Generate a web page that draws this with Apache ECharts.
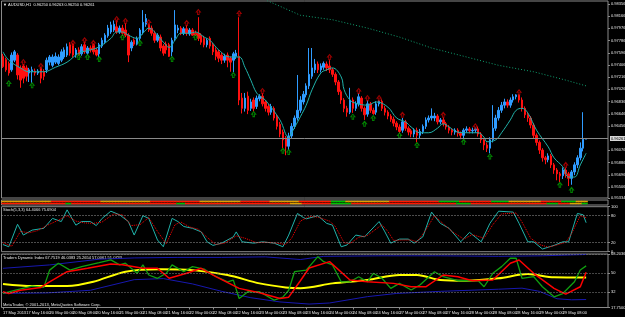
<!DOCTYPE html>
<html><head><meta charset="utf-8">
<script src="https://cdn.jsdelivr.net/npm/echarts@6/dist/echarts.min.js"></script>
<style>html,body{margin:0;padding:0;background:#000;}#c{width:625px;height:317px;}</style>
</head><body><div id="c"></div><script>
// ---- time axis labels (one every 8 H1 bars) ----
const timeLabels = ['17 May 2013','17 May 16:00','20 May 00:00','20 May 08:00','20 May 16:00','21 May 00:00','21 May 08:00','21 May 16:00','22 May 00:00','22 May 08:00','22 May 16:00','23 May 00:00','23 May 08:00','23 May 16:00','24 May 00:00','24 May 08:00','24 May 16:00','27 May 00:00','27 May 08:00','27 May 16:00','28 May 00:00','28 May 08:00','28 May 16:00','29 May 00:00','29 May 08:00','29 May 16:00'];
// ---- AUDUSD H1 candles in pips: [open, close, low, high] ----
const ohlc = [
[9754,9738,9736,9758],[9749,9733,9730,9752],[9743,9728,9724,9746],[9733,9756,9730,9760],[9748,9761,9745,9764],
[9756,9725,9718,9759],[9736,9717,9705,9740],[9739,9720,9712,9742],[9736,9723,9715,9740],[9728,9733,9714,9736],
[9730,9733,9713,9738],[9731,9728,9724,9735],[9728,9731,9725,9734],[9736,9720,9712,9737],[9730,9723,9717,9734],
[9733,9748,9728,9752],[9745,9753,9740,9756],[9740,9753,9737,9757],[9745,9754,9742,9760],[9743,9753,9740,9757],
[9748,9761,9745,9765],[9753,9764,9750,9768],[9756,9769,9753,9774],[9772,9759,9755,9776],[9773,9756,9752,9774],
[9756,9764,9752,9767],[9764,9756,9755,9768],[9758,9769,9755,9773],[9772,9761,9758,9777],[9759,9767,9756,9770],
[9767,9764,9760,9771],[9772,9761,9757,9774],[9764,9756,9754,9767],[9758,9772,9753,9775],[9770,9779,9767,9783],
[9776,9787,9773,9790],[9786,9798,9783,9803],[9792,9803,9789,9808],[9795,9804,9792,9810],[9800,9792,9789,9810],
[9792,9798,9789,9802],[9798,9790,9786,9803],[9795,9787,9784,9806],[9787,9756,9745,9790],[9767,9776,9762,9779],
[9779,9773,9770,9782],[9773,9782,9771,9785],[9782,9795,9778,9798],[9792,9807,9788,9826],[9804,9813,9800,9820],
[9804,9795,9792,9805],[9798,9790,9786,9802],[9790,9779,9775,9794],[9779,9787,9776,9790],[9784,9767,9762,9788],
[9770,9759,9755,9773],[9773,9764,9758,9777],[9772,9754,9753,9775],[9761,9779,9754,9783],[9782,9803,9778,9826],
[9795,9798,9790,9803],[9798,9790,9787,9801],[9790,9797,9787,9800],[9797,9790,9786,9803],[9789,9795,9786,9798],
[9795,9787,9786,9798],[9790,9787,9786,9794],[9790,9782,9778,9815],[9787,9776,9772,9790],[9782,9772,9768,9786],
[9772,9779,9768,9782],[9782,9770,9766,9785],[9772,9761,9756,9775],[9764,9754,9748,9768],[9761,9751,9745,9764],
[9756,9748,9742,9760],[9748,9754,9744,9758],[9756,9748,9737,9760],[9751,9745,9730,9754],[9748,9758,9729,9761],
[9754,9759,9750,9764],[9754,9686,9678,9815],[9689,9673,9665,9697],[9673,9689,9668,9697],[9692,9670,9664,9699],
[9673,9683,9669,9688],[9686,9673,9668,9690],[9676,9689,9672,9693],[9688,9692,9684,9695],[9692,9680,9676,9697],
[9683,9673,9668,9686],[9676,9667,9662,9680],[9667,9676,9663,9680],[9673,9658,9654,9676],[9661,9645,9640,9664],
[9648,9633,9628,9652],[9636,9624,9611,9640],[9627,9614,9600,9630],[9614,9630,9608,9635],[9630,9645,9626,9650],
[9645,9658,9641,9662],[9658,9670,9654,9725],[9670,9686,9666,9692],[9683,9695,9679,9700],[9694,9708,9690,9712],
[9708,9726,9703,9767],[9723,9736,9719,9767],[9733,9742,9728,9750],[9742,9733,9728,9746],[9733,9739,9729,9743],
[9737,9743,9733,9746],[9742,9736,9731,9746],[9739,9733,9728,9748],[9733,9726,9722,9736],[9726,9714,9709,9729],
[9714,9699,9694,9717],[9699,9686,9680,9702],[9686,9673,9667,9689],[9673,9667,9660,9677],[9667,9686,9664,9705],
[9686,9673,9666,9690],[9673,9680,9669,9684],[9680,9691,9676,9697],[9689,9673,9668,9692],[9673,9663,9655,9676],
[9664,9680,9660,9686],[9680,9670,9666,9683],[9670,9665,9663,9674],[9667,9680,9663,9684],[9680,9684,9676,9686],
[9684,9673,9669,9687],[9673,9667,9662,9677],[9667,9661,9656,9670],[9661,9656,9652,9664],[9656,9650,9645,9660],
[9650,9644,9639,9653],[9644,9637,9634,9648],[9639,9652,9635,9658],[9652,9642,9638,9655],[9642,9636,9631,9645],
[9638,9633,9628,9641],[9633,9639,9628,9642],[9639,9631,9620,9643],[9631,9637,9626,9641],[9637,9645,9633,9648],
[9645,9655,9641,9659],[9655,9658,9651,9662],[9658,9661,9654,9673],[9658,9661,9653,9666],[9661,9652,9648,9664],
[9652,9655,9648,9658],[9655,9649,9645,9659],[9649,9644,9640,9652],[9644,9639,9634,9647],[9639,9636,9631,9642],
[9636,9639,9632,9642],[9639,9634,9629,9642],[9634,9631,9625,9637],[9631,9639,9625,9642],[9639,9641,9635,9645],
[9641,9638,9634,9644],[9638,9639,9634,9643],[9639,9641,9635,9643],[9641,9633,9629,9644],[9633,9624,9619,9636],
[9624,9616,9608,9627],[9616,9611,9605,9620],[9611,9624,9603,9628],[9624,9642,9620,9678],[9642,9658,9638,9663],
[9658,9670,9654,9675],[9670,9678,9666,9683],[9678,9683,9673,9688],[9683,9678,9674,9687],[9678,9686,9674,9690],
[9686,9691,9682,9695],[9691,9694,9687,9695],[9694,9686,9682,9695],[9686,9673,9668,9690],[9673,9663,9658,9676],
[9663,9658,9652,9667],[9658,9647,9642,9661],[9647,9631,9626,9650],[9631,9620,9615,9634],[9620,9608,9602,9623],
[9608,9596,9590,9611],[9596,9593,9586,9599],[9593,9599,9589,9603],[9599,9585,9580,9602],[9585,9577,9571,9588],
[9577,9571,9561,9580],[9571,9568,9558,9574],[9568,9577,9563,9581],[9577,9571,9565,9580],[9571,9564,9552,9574],
[9564,9574,9554,9577],[9574,9585,9569,9589],[9585,9596,9580,9600],[9596,9611,9592,9620],[9611,9625,9606,9667],
[9625.0,9626.1,9625.0,9626.3]
];
// fast MA (teal) [bar, pips]
const maFast = [[0,9761],[2,9748],[6,9736],[9,9730],[14,9730],[18,9737],[22,9745],[26,9759],[30,9764],[33,9769],[37,9782],[39,9792],[41,9792],[43,9787],[46,9782],[48,9790],[50,9798],[53,9787],[55,9776],[57,9768],[59,9779],[61,9790],[64,9790],[66,9792],[69,9784],[71,9779],[74,9764],[78,9753],[81,9753],[83,9737],[85,9717],[87,9697],[89,9689],[90,9686],[95,9655],[98,9628],[99,9635],[102,9660],[104,9678],[106,9702],[109,9728],[111,9733],[113,9736],[116,9722],[117,9702],[119,9686],[121,9681],[125,9678],[128,9683],[132,9675],[135,9658],[138,9652],[140,9644],[143,9635],[146,9635],[149,9642],[151,9649],[153,9644],[156,9636],[159,9635],[163,9635],[165,9628],[166,9621],[169,9624],[171,9635],[174,9655],[176,9670],[178,9673],[180,9666],[183,9639],[187,9613],[189,9596],[192,9582],[194,9566],[196,9566],[198,9585],[200,9603]];
// slow MA (green dotted) [bar, pips]
const maSlow = [[81,9858],[90,9842],[102,9818],[113,9811],[125,9798],[136,9784],[147,9767],[159,9753],[170,9740],[182,9730],[193,9717],[200,9708]];
// fractal arrows [bar, pips]
const upFractals = [[7,9745],[13,9739],[24,9775],[28,9779],[31,9775],[39,9812],[42,9809],[50,9807],[63,9806],[67,9823],[81,9821],[89,9700],[112,9753],[122,9700],[125,9689],[129,9689],[137,9663],[151,9663],[162,9645],[177,9698],[193,9585]];
const downFractals = [[2,9712],[10,9709],[26,9753],[29,9753],[33,9750],[41,9784],[47,9775],[58,9750],[66,9784],[79,9725],[86,9664],[96,9607],[98,9605],[120,9660],[124,9649],[127,9658],[136,9631],[142,9616],[158,9621],[167,9598],[191,9554],[195,9546]];
// price axis tick labels
const priceTicks = [0.98356,0.98166,0.97976,0.97786,0.97596,0.97406,0.97216,0.97026,0.96836,0.96646,0.96456,0.96076,0.95886,0.95696,0.95506,0.95334];
const lastPrice = 0.96261;
// strip indicator runs [fromBar, toBar, state] state 0=red 1=orange 2=green
const stripTop = [[0,16,1],[17,33,0],[34,50,1],[51,67,0],[68,81,1],[82,91,0],[92,101,1],[102,112,0],[113,117,2],[118,132,1],[133,149,0],[150,156,2],[157,167,0],[168,173,2],[174,184,1],[185,191,0],[192,196,2],[197,200,1]];
const stripBottom = [[0,21,0],[22,23,2],[24,59,0],[60,62,2],[63,98,0],[99,102,1],[103,112,0],[113,119,2],[120,155,0],[156,160,2],[161,186,0],[187,190,2],[191,194,0],[195,198,1],[199,200,2]];
// Stochastic(5,3,3) [bar, value]
const stochMain = [[0,16],[2,11],[5,61],[7,37],[10,48],[14,52],[17,74],[20,67],[22,93],[24,70],[25,59],[27,67],[30,67],[32,58],[34,74],[37,90],[40,82],[43,67],[45,37],[48,80],[50,74],[53,26],[55,11],[58,74],[60,67],[62,56],[65,52],[68,44],[70,22],[72,14],[75,19],[79,33],[80,44],[82,22],[86,19],[89,22],[93,19],[96,11],[98,37],[101,85],[103,76],[104,73],[108,80],[111,63],[113,59],[116,11],[118,15],[121,37],[124,33],[129,67],[131,44],[133,19],[136,28],[139,28],[141,19],[144,33],[147,88],[150,63],[153,52],[157,22],[160,43],[164,22],[167,63],[170,90],[175,88],[177,63],[180,22],[182,22],[185,6],[189,14],[192,22],[194,22],[197,85],[199,82],[200,64.4]];
const stochSignal = [[0,20],[3,12],[6,45],[9,42],[12,47],[15,58],[19,70],[22,80],[25,68],[28,64],[31,63],[34,66],[38,84],[41,82],[44,58],[47,60],[50,76],[53,45],[56,18],[59,60],[61,66],[64,55],[67,50],[70,32],[73,16],[76,19],[80,35],[83,30],[87,20],[90,21],[94,19],[97,16],[99,30],[102,68],[105,78],[108,77],[112,68],[114,56],[117,20],[119,18],[122,32],[125,36],[130,60],[132,45],[134,25],[137,26],[140,26],[142,22],[145,48],[148,80],[151,62],[154,45],[158,28],[161,38],[165,30],[168,60],[171,84],[176,86],[178,66],[181,30],[184,16],[187,10],[190,15],[193,21],[195,40],[198,80],[200,75.7]];
// Traders Dynamic Index [bar, value]
const tdiUpper = [[0,54.7],[16,57.9],[33,63.3],[45,64.5],[60,65],[75,65],[90,65.5],[102,63],[110,66],[130,66.5],[150,66.5],[170,66],[185,66.5],[200,67.75]];
const tdiLower = [[0,31],[15,31.5],[30,34],[45,44],[55,45],[65,40],[75,33],[85,27],[95,23],[105,21],[112,22],[125,28],[135,31],[150,33],[170,35],[178,36],[184,33],[190,26],[195,25],[200,25.27]];
const tdiBase = [[0,39.9],[10,38],[22,38],[31,42],[42,51.5],[54,53.8],[65,53],[77,48.4],[88,40.5],[97,36.7],[102,36],[113,40.5],[125,43.7],[136,48.4],[142,48.4],[150,43.7],[159,43],[170,45.3],[180,49.3],[189,46.2],[200,46.04]];
const tdiSignal = [[0,32.6],[2,31],[6,34],[13,36.7],[16,42],[22,51.5],[29,54.7],[37,58.8],[41,58],[48,54.7],[53,54.7],[57,45.3],[63,50],[68,54.7],[73,46.8],[81,35.8],[88,31.6],[95,26.3],[98,27.5],[102,43],[105,55],[112,61],[119,43.7],[125,42],[134,40.5],[140,37.3],[145,37.3],[151,48.4],[156,46.8],[161,43],[168,43.7],[174,59.5],[177,62.6],[182,50],[189,35.8],[193,30.4],[198,37.3],[200,51.07]];
const tdiRsi = [[0,31],[4,34],[10,38],[14,36.7],[16,53],[19,59.5],[23,53],[27,56.3],[33,60],[37,62.6],[40,58],[42,59.5],[46,50],[48,58],[50,48.4],[53,45.3],[56,50],[58,58],[62,51.5],[65,56.3],[69,54],[72,48.4],[77,42],[79,43.6],[81,26.3],[84,32.6],[88,32.6],[93,24.7],[96,27.5],[98,34],[100,51.5],[104,53],[108,65.7],[110,61],[113,57.9],[116,42],[119,42],[122,46.8],[125,42],[127,50],[130,45.3],[133,35.8],[136,40.5],[140,34.2],[143,39],[148,51.5],[151,46.8],[156,43],[159,43],[163,43],[165,37.3],[168,50],[171,56.3],[174,64.2],[176,64.2],[178,45.3],[182,46.8],[185,37.3],[189,27.8],[192,30.9],[196,42],[198,53.1],[200,57.0]];
const tdiTicks = [17.75, 32, 50, 68.2036];

// ---------- build ----------
const nCats = 208;
const cats = Array.from({length:nCats}, (_, i) => String(i));
const px = v => v / 10000;
const toPrice = arr => arr.map(([i, v]) => [i, px(v)]);
const candleData = ohlc.map(r => r.map(px));
const stripCells = [];
// rows: 0 pad, 1 bottom line, 2 gap, 3 top line, 4 pad
[[stripBottom, 1], [stripTop, 3]].forEach(([runs, row]) => runs.forEach(([a, b, s]) => { for (let i = a; i <= b; i++) stripCells.push([i, row, s]); }));

const FONT = 'Liberation Sans';
const border = '#8a8a8a';
const L = 1.5, W = 606.5;
const gridBase = {left: L, width: W, show: true, borderColor: border, borderWidth: 1, backgroundColor: '#000', containLabel: false, outerBoundsMode: 'none'};
const xBase = (g) => ({type: 'category', gridIndex: g, data: cats, boundaryGap: true, axisLine: {show: false}, axisTick: {show: false}, axisLabel: {show: false}, splitLine: {show: false}});
const lbl = {color: '#e8e8e8', fontSize: 4, fontFamily: FONT, margin: 3};
const showIdx = (idx) => idx % 8 === 0 && idx <= 200;

const chart = echarts.init(document.getElementById('c'), null, {renderer: 'canvas'});
chart.setOption({
  backgroundColor: '#000',
  animation: false,
  grid: [
    Object.assign({top: 1, height: 197}, gridBase),
    Object.assign({top: 200, height: 5}, gridBase),
    Object.assign({top: 206.7, height: 45}, gridBase),
    Object.assign({top: 254, height: 53.5}, gridBase)
  ],
  xAxis: [xBase(0), xBase(1), xBase(2), Object.assign(xBase(3), {
    axisTick: {show: true, interval: showIdx, length: 2, alignWithLabel: true, lineStyle: {color: border}},
    axisLabel: {show: true, interval: showIdx, formatter: (v, idx) => timeLabels[idx / 8], align: 'left', color: '#e8e8e8', fontSize: 4, fontFamily: FONT, margin: 3}
  })],
  yAxis: [
    {type: 'value', gridIndex: 0, position: 'right', min: 0.95334, max: 0.98402, splitLine: {show: false}, axisLine: {show: false},
     axisTick: {show: true, customValues: priceTicks, length: 2, lineStyle: {color: border}},
     axisLabel: Object.assign({customValues: priceTicks, formatter: v => v.toFixed(5)}, lbl)},
    {type: 'category', gridIndex: 1, data: ['p0', 'b', 'g', 'a', 'p1'], show: false},
    {type: 'value', gridIndex: 2, position: 'right', min: 0, max: 100, splitLine: {show: false}, axisLine: {show: false},
     axisTick: {show: true, customValues: [0, 20, 80, 100], length: 2, lineStyle: {color: border}},
     axisLabel: Object.assign({customValues: [0, 20, 80, 100]}, lbl)},
    {type: 'value', gridIndex: 3, position: 'right', min: tdiTicks[0], max: tdiTicks[3], splitLine: {show: false}, axisLine: {show: false},
     axisTick: {show: true, customValues: tdiTicks, length: 2, lineStyle: {color: border}},
     axisLabel: Object.assign({customValues: tdiTicks, formatter: v => Number.isInteger(v) ? String(v) : v.toFixed(4)}, lbl)}
  ],
  visualMap: [{type: 'piecewise', show: false, seriesIndex: 5, dimension: 2,
    pieces: [{value: 0, color: '#ff1a00'}, {value: 1, color: '#e0a000'}, {value: 2, color: '#00c000'}]}],
  series: [
    {type: 'candlestick', xAxisIndex: 0, yAxisIndex: 0, data: candleData, barWidth: 2,
     itemStyle: {color: '#2f9cff', color0: '#ff1010', borderColor: '#2f9cff', borderColor0: '#ff1010', borderWidth: 1}},
    {type: 'line', xAxisIndex: 0, yAxisIndex: 0, data: toPrice(maFast), smooth: 0.4, symbol: 'none', lineStyle: {color: '#20b2aa', width: 1},
     markLine: {silent: true, precision: 5, symbol: ['none', 'none'], data: [{yAxis: lastPrice}],
       lineStyle: {color: '#8a8a8a', width: 1, type: 'solid'},
       label: {show: true, position: 'end', distance: 2, formatter: lastPrice.toFixed(5), color: '#000', backgroundColor: '#d8d8d8', fontSize: 4, fontFamily: FONT, padding: [1, 1, 0, 1]}}},
    {type: 'line', xAxisIndex: 0, yAxisIndex: 0, data: toPrice(maSlow), symbol: 'none', clip: true, lineStyle: {color: '#10a070', width: 1, type: [1, 2]}},
    {type: 'scatter', xAxisIndex: 0, yAxisIndex: 0, data: toPrice(upFractals), symbol: 'path://M3,10 L3,5 L0,5 L5,0 L10,5 L7,5 L7,10 Z', symbolSize: [4, 5],
     itemStyle: {color: 'rgba(0,0,0,0)', borderColor: '#c00000', borderWidth: 1}},
    {type: 'scatter', xAxisIndex: 0, yAxisIndex: 0, data: toPrice(downFractals), symbol: 'path://M3,10 L3,5 L0,5 L5,0 L10,5 L7,5 L7,10 Z', symbolSize: [4, 5],
     itemStyle: {color: 'rgba(0,0,0,0)', borderColor: '#00a000', borderWidth: 1}},
    {type: 'heatmap', xAxisIndex: 1, yAxisIndex: 1, data: stripCells, itemStyle: {borderWidth: 0}},
    {type: 'line', xAxisIndex: 2, yAxisIndex: 2, data: stochMain, symbol: 'none', lineStyle: {color: '#20b2aa', width: 1},
     markLine: {silent: true, symbol: ['none', 'none'], label: {show: false}, data: [{yAxis: 20}, {yAxis: 80}], lineStyle: {color: '#9a9a9a', width: 1, type: [1, 2]}}},
    {type: 'line', xAxisIndex: 2, yAxisIndex: 2, data: stochSignal, symbol: 'none', lineStyle: {color: '#ff0000', width: 1, type: [1, 1]}},
    {type: 'line', xAxisIndex: 3, yAxisIndex: 3, data: tdiUpper, symbol: 'none', lineStyle: {color: '#1818b0', width: 1},
     markLine: {silent: true, symbol: ['none', 'none'], label: {show: false}, data: [{yAxis: 32}, {yAxis: 50}, {yAxis: 68}], lineStyle: {color: '#8a8a8a', width: 1, type: [1, 2]}}},
    {type: 'line', xAxisIndex: 3, yAxisIndex: 3, data: tdiLower, symbol: 'none', lineStyle: {color: '#1818b0', width: 1}},
    {type: 'line', xAxisIndex: 3, yAxisIndex: 3, data: tdiBase, symbol: 'none', smooth: 0.3, lineStyle: {color: '#ffff00', width: 2}},
    {type: 'line', xAxisIndex: 3, yAxisIndex: 3, data: tdiRsi, symbol: 'none', lineStyle: {color: '#10a010', width: 1.3}},
    {type: 'line', xAxisIndex: 3, yAxisIndex: 3, data: tdiSignal, symbol: 'none', lineStyle: {color: '#ff0000', width: 1.5}}
  ],
  graphic: [
    {type: 'text', left: 3, top: 2.5, style: {text: '▼ AUDUSD,H1  0.96250 0.96263 0.96250 0.96261', fill: '#f0f0f0', fontSize: 4, fontFamily: FONT}},
    {type: 'text', left: 3, top: 208, style: {text: 'Stoch(5,3,3) 64.4066 75.6904', fill: '#e8e8e8', fontSize: 4, fontFamily: FONT}},
    {type: 'text', left: 3, top: 255.5, style: {text: 'Traders Dynamic Index 67.7519 46.0383 25.2654 57.0061 51.0733', fill: '#e8e8e8', fontSize: 4, fontFamily: FONT}},
    {type: 'text', left: 3, top: 302.5, style: {text: 'MetaTrader, © 2001-2013, MetaQuotes Software Corp.', fill: '#e8e8e8', fontSize: 4, fontFamily: FONT}}
  ]
});
</script></body></html>
